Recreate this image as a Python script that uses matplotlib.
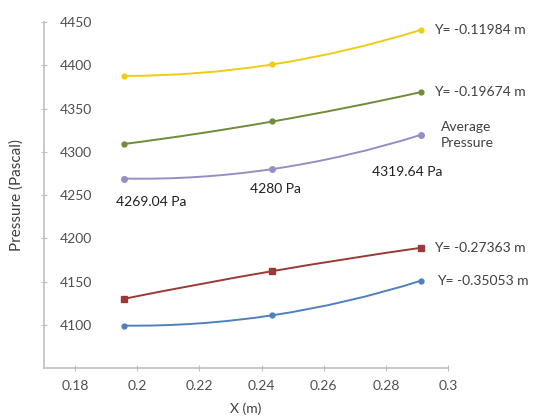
import matplotlib
matplotlib.use("Agg")
import matplotlib.pyplot as plt
from matplotlib.path import Path
from matplotlib.patches import PathPatch

plt.rcParams['font.family'] = ['Lato', 'DejaVu Sans']

# x positions (m) shared by all series
x = [0.1958, 0.2435, 0.2913]

# pressure values (Pa)
p_y1 = [4387.7, 4401, 4441]       # Y = -0.11984 m
p_y2 = [4309, 4335, 4369]         # Y = -0.19674 m
p_avg = [4269.04, 4280, 4319.64]  # average pressure
p_y3 = [4130, 4162, 4189]         # Y = -0.27363 m
p_y4 = [4099, 4111, 4151]         # Y = -0.35053 m

series_labels = ['Y= -0.11984 m', 'Y= -0.19674 m', 'Average\nPressure',
                 'Y= -0.27363 m', 'Y= -0.35053 m']
avg_labels = ['4269.04 Pa', '4280 Pa', '4319.64 Pa']

xticks = [0.18, 0.2, 0.22, 0.24, 0.26, 0.28, 0.3]
xticklabels = ['0.18', '0.2', '0.22', '0.24', '0.26', '0.28', '0.3']
yticks = [4100, 4150, 4200, 4250, 4300, 4350, 4400, 4450]


def smooth_path(xs, ys):
    # smoothed line through the points, drawn as cubic bezier segments
    pts = list(zip(xs, ys))
    n = len(pts)
    tang = []
    for i in range(n):
        if i == 0:
            t = [(-3 * pts[0][k] + 4 * pts[1][k] - pts[2][k]) / 2 for k in (0, 1)]
        elif i == n - 1:
            t = [(pts[-3][k] - 4 * pts[-2][k] + 3 * pts[-1][k]) / 2 for k in (0, 1)]
        else:
            t = [(pts[i + 1][k] - pts[i - 1][k]) / 2 for k in (0, 1)]
        tang.append(t)
    verts = [pts[0]]
    codes = [Path.MOVETO]
    for i in range(n - 1):
        p1, p2 = pts[i], pts[i + 1]
        c1 = (p1[0] + tang[i][0] / 3, p1[1] + tang[i][1] / 3)
        c2 = (p2[0] - tang[i + 1][0] / 3, p2[1] - tang[i + 1][1] / 3)
        verts += [c1, c2, p2]
        codes += [Path.CURVE4] * 3
    return Path(verts, codes)


fig = plt.figure(figsize=(5.36, 4.17), dpi=100)
ax = fig.add_axes([0.082, 0.1175, 0.754, 0.8297])

series = [
    (p_y1, '#F0CC16', 'o', 3.5),
    (p_y2, '#6F8C3A', 'o', 3.5),
    (p_avg, '#948FC6', 'o', 4),
    (p_y3, '#983A38', 's', 4.5),
    (p_y4, '#4F81BD', 'o', 3.5),
]

for vals, col, mk, ms in series:
    ax.add_patch(PathPatch(smooth_path(x, vals), facecolor='none',
                           edgecolor=col, lw=1.4))
    ax.plot(x, vals, linestyle='none', marker=mk, ms=ms, color=col)

# series labels at right end
offsets = [(9, 0), (9, 0), (14, 0), (9, 0), (11.5, 0)]
for vals, lab, off in zip([p_y1, p_y2, p_avg, p_y3, p_y4], series_labels, offsets):
    ax.annotate(lab, (x[-1], vals[-1]), xytext=off, textcoords='offset points',
                ha='left', va='center', fontsize=10, color='#404040',
                annotation_clip=False, linespacing=1.45)

# average pressure value labels
avg_off = [(-6, -17), (-16, -14), (-35, -27)]
for xv, yv, lab, off in zip(x, p_avg, avg_labels, avg_off):
    ax.annotate(lab, (xv, yv), xytext=off, textcoords='offset points',
                ha='left', va='center', fontsize=10, color='#202020')

ax.set_xlim(0.17, 0.3)
ax.set_ylim(4050, 4450)
ax.set_xticks(xticks)
ax.set_xticklabels(xticklabels)
ax.set_yticks(yticks)

for s in ['top', 'right']:
    ax.spines[s].set_visible(False)
for s in ['left', 'bottom']:
    ax.spines[s].set_color('#BFBFBF')
    ax.spines[s].set_linewidth(1.2)
ax.tick_params(axis='both', direction='inout', length=5, color='#BFBFBF',
               labelsize=10, labelcolor='#505050')
ax.tick_params(axis='x', pad=6)
# y tick labels sit on the inner side of the axis line
ax.tick_params(axis='y', pad=-37)

ax.set_xlabel('X (m)', fontsize=10, color='#404040', labelpad=8)
ax.yaxis.set_label_coords(-0.05, 0.48)
ax.set_ylabel('Pressure (Pascal)', fontsize=11, color='#404040')

fig.savefig('out.png', dpi=100)
